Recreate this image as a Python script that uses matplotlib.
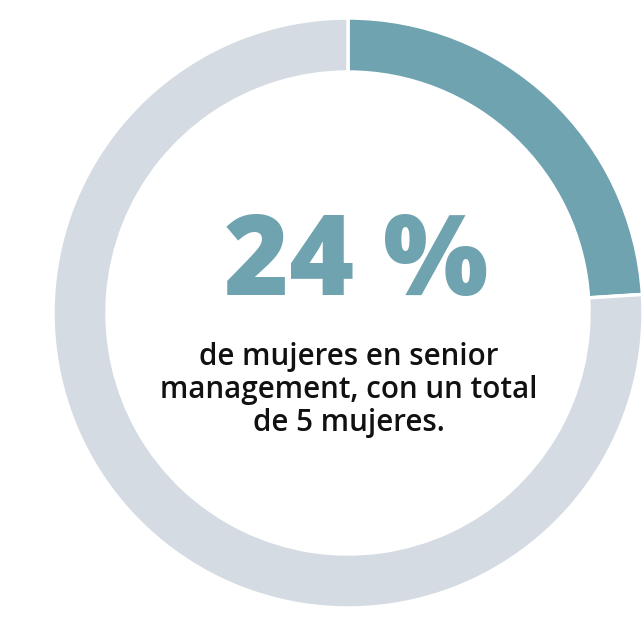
import matplotlib.pyplot as plt

# share of women in senior management
labels = ['Mujeres', 'Resto']
values = [24, 76]
colors = ['#6fa3b0', '#d4dbe3']
big_text = '24 %'
sub_text = 'de mujeres en senior\nmanagement, con un total\nde 5 mujeres.'

W, H = 642, 619
fig = plt.figure(figsize=(W / 100, H / 100), dpi=100)
ax = fig.add_axes([0, 0, 1, 1])

ax.pie(values, colors=colors, startangle=90, counterclock=False,
       center=(348, H - 313), radius=295, frame=True,
       wedgeprops=dict(width=54, edgecolor='white', linewidth=2.5))
ax.set_xlim(0, W)
ax.set_ylim(0, H)
ax.set_aspect('equal')
ax.axis('off')

ax.text(356, H - 266, big_text, ha='center', va='center', color=colors[0],
        fontsize=80, fontweight='heavy', family=['Open Sans', 'DejaVu Sans'])
ax.text(349, H - 390, sub_text, ha='center', va='center', color='#111111',
        fontsize=21.3, fontweight='semibold', linespacing=1.13,
        family=['Open Sans', 'DejaVu Sans'])

fig.savefig('out.png', dpi=100, facecolor='white')
